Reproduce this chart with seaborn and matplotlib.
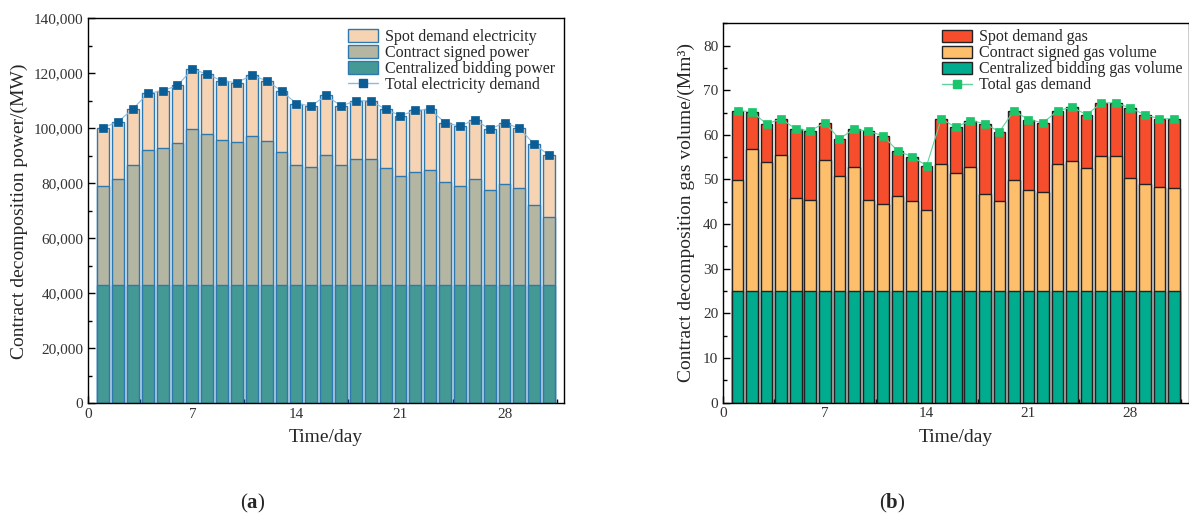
import numpy as np
import pandas as pd
import matplotlib
matplotlib.use("Agg")
import matplotlib.pyplot as plt
import seaborn as sns
from matplotlib.patches import Patch
from matplotlib.lines import Line2D
from matplotlib.ticker import MultipleLocator, FuncFormatter

# ---------------- data ----------------
days = list(range(1, 32))

# (a) electricity, MW
elec_centralized = [43200, 43200, 43200, 43200, 43200, 43200, 43200, 43200, 43200, 43200,
                    43200, 43200, 43200, 43200, 43200, 43200, 43200, 43200, 43200, 43200,
                    43200, 43200, 43200, 43200, 43200, 43200, 43200, 43200, 43200, 43200, 43200]
elec_contract = [35800, 38400, 43500, 48900, 49700, 51600, 56500, 54700, 52500, 51800,
                 54000, 52200, 48200, 43500, 42700, 47100, 43300, 45500, 45500, 42500,
                 39500, 41000, 41700, 37400, 35700, 38300, 34500, 36500, 35100, 29000, 24700]
elec_spot = [21200, 20800, 20300, 20600, 20700, 20800, 21800, 21800, 21500, 21600,
             22100, 21900, 22200, 22300, 22200, 21700, 21600, 21300, 21300, 21200,
             21900, 22300, 22000, 21400, 21900, 21600, 22000, 22300, 21700, 22000, 22300]

# (b) gas, Mm3
gas_centralized = [25.0, 25.0, 25.0, 25.0, 25.0, 25.0, 25.0, 25.0, 25.0, 25.0,
                   25.0, 25.0, 25.0, 25.0, 25.0, 25.0, 25.0, 25.0, 25.0, 25.0,
                   25.0, 25.0, 25.0, 25.0, 25.0, 25.0, 25.0, 25.0, 25.0, 25.0, 25.0]
gas_contract = [24.9, 31.9, 29.0, 30.5, 20.9, 20.4, 29.4, 25.8, 27.8, 20.3,
                19.4, 21.2, 20.1, 18.1, 28.5, 26.5, 27.9, 21.8, 20.1, 24.9,
                22.7, 22.2, 28.5, 29.2, 27.6, 30.3, 30.3, 25.4, 24.0, 23.3, 23.1]
gas_spot = [15.5, 8.3, 8.4, 8.1, 15.4, 15.5, 8.3, 8.3, 8.5, 15.5,
            15.4, 10.2, 10.0, 10.0, 10.1, 10.2, 10.3, 15.7, 15.6, 15.5,
            15.7, 15.5, 11.9, 12.0, 11.9, 11.8, 11.9, 15.6, 15.5, 15.3, 15.5]

xticks = [0, 7, 14, 21, 28]

elec_labels = ["Spot demand electricity", "Contract signed power",
               "Centralized bidding power", "Total electricity demand"]
gas_labels = ["Spot demand gas", "Contract signed gas volume",
              "Centralized bidding gas volume", "Total gas demand"]

# ---------------- style ----------------
sns.set_theme(style="ticks")
plt.rcParams["font.family"] = ["Liberation Serif", "DejaVu Serif"]
plt.rcParams["mathtext.fontset"] = "custom"
plt.rcParams["mathtext.rm"] = "Liberation Serif"
plt.rcParams["mathtext.bf"] = "Liberation Serif:bold"

df_e = pd.DataFrame({"day": days, "c": elec_centralized, "k": elec_contract, "s": elec_spot})
df_e["top_k"] = df_e["c"] + df_e["k"]
df_e["total"] = df_e["top_k"] + df_e["s"]

df_g = pd.DataFrame({"day": days, "c": gas_centralized, "k": gas_contract, "s": gas_spot})
df_g["top_k"] = df_g["c"] + df_g["k"]
df_g["total"] = df_g["top_k"] + df_g["s"]

fig = plt.figure(figsize=(11.89, 5.16), dpi=100)
W, H = 1189.0, 516.0
ax1 = fig.add_axes([88.3 / W, 1 - 403.3 / H, (564 - 88.3) / W, (403.3 - 18.3) / H])
ax2 = fig.add_axes([723.0 / W, 1 - 402.5 / H, (1188.5 - 723.0) / W, (402.5 - 23.3) / H])


def draw(ax, df, colors, edge, lw, mcolor, lcolor, msize):
    for col, c in zip(["total", "top_k", "c"], colors):
        sns.barplot(data=df, x="day", y=col, native_scale=True, width=0.8,
                    color=c, saturation=1, edgecolor=edge, linewidth=lw,
                    errorbar=None, ax=ax)
    sns.lineplot(data=df, x="day", y="total", color=lcolor, linewidth=0.8,
                 marker="s", markersize=msize, markerfacecolor=mcolor,
                 markeredgecolor=mcolor, markeredgewidth=0.5, ax=ax, zorder=5)


e_colors = ["#F5D3B3", "#B5B6A2", "#449995"]
g_colors = ["#F64D2C", "#FDBF6B", "#00AB8E"]
draw(ax1, df_e, e_colors, "#2E78B0", 1.0, "#0B5E95", "#8DBBDD", 6)
draw(ax2, df_g, g_colors, "#222222", 1.0, "#1BC56B", "#5FD39B", 6)

tick_color = "#333333"
for ax in (ax1, ax2):
    ax.set_xlim(0, 32)
    ax.set_xticks(xticks)
    ax.set_xticklabels([str(t) for t in xticks])
    ax.xaxis.set_minor_locator(MultipleLocator(3.5))
    ax.tick_params(which="both", direction="in", top=False, right=False,
                   colors="black", labelcolor=tick_color, labelsize=11)
    ax.tick_params(which="major", length=5, width=1)
    ax.tick_params(which="minor", length=3, width=1)
    for sp in ax.spines.values():
        sp.set_visible(True)
        sp.set_linewidth(1.0)
        sp.set_color("black")
    ax.set_xlabel("Time/day", fontsize=14, labelpad=6)
    ax.grid(False)

ax1.set_ylim(0, 140000)
ax1.set_yticks(np.arange(0, 140001, 20000))
ax1.yaxis.set_minor_locator(MultipleLocator(10000))
ax1.yaxis.set_major_formatter(FuncFormatter(lambda v, p: f"{int(v):,}"))
ax1.set_ylabel("Contract decomposition power/(MW)", fontsize=14, labelpad=4)

ax2.set_ylim(0, 85)
ax2.set_yticks(np.arange(0, 81, 10))
ax2.yaxis.set_minor_locator(MultipleLocator(5))
ax2.set_ylabel("Contract decomposition gas volume/(Mm³)", fontsize=14, labelpad=6)


def legend(ax, colors, edge, mcolor, lcolor, labels, anchor):
    handles = [Patch(facecolor=colors[0], edgecolor=edge, linewidth=1.0),
               Patch(facecolor=colors[1], edgecolor=edge, linewidth=1.0),
               Patch(facecolor=colors[2], edgecolor=edge, linewidth=1.0),
               Line2D([0], [0], color=lcolor, lw=1.0, marker="s", markersize=6,
                      markerfacecolor=mcolor, markeredgecolor=mcolor)]
    ax.legend(handles, labels, loc="upper left", bbox_to_anchor=anchor,
              frameon=False, fontsize=11.5, handlelength=1.9, handleheight=0.8,
              labelspacing=0.0, handletextpad=0.4, borderpad=0, borderaxespad=0)


legend(ax1, e_colors, "#2E78B0", "#0B5E95", "#8DBBDD", elec_labels, (0.546, 0.972))
legend(ax2, g_colors, "#222222", "#1BC56B", "#5FD39B", gas_labels, (0.47, 0.984))

fig.text(252.5 / W, 1 - 503 / H, r"($\mathbf{a}$)", ha="center", va="center", fontsize=15)
fig.text(892.5 / W, 1 - 503 / H, r"($\mathbf{b}$)", ha="center", va="center", fontsize=15)

fig.savefig("out.png", dpi=100)
